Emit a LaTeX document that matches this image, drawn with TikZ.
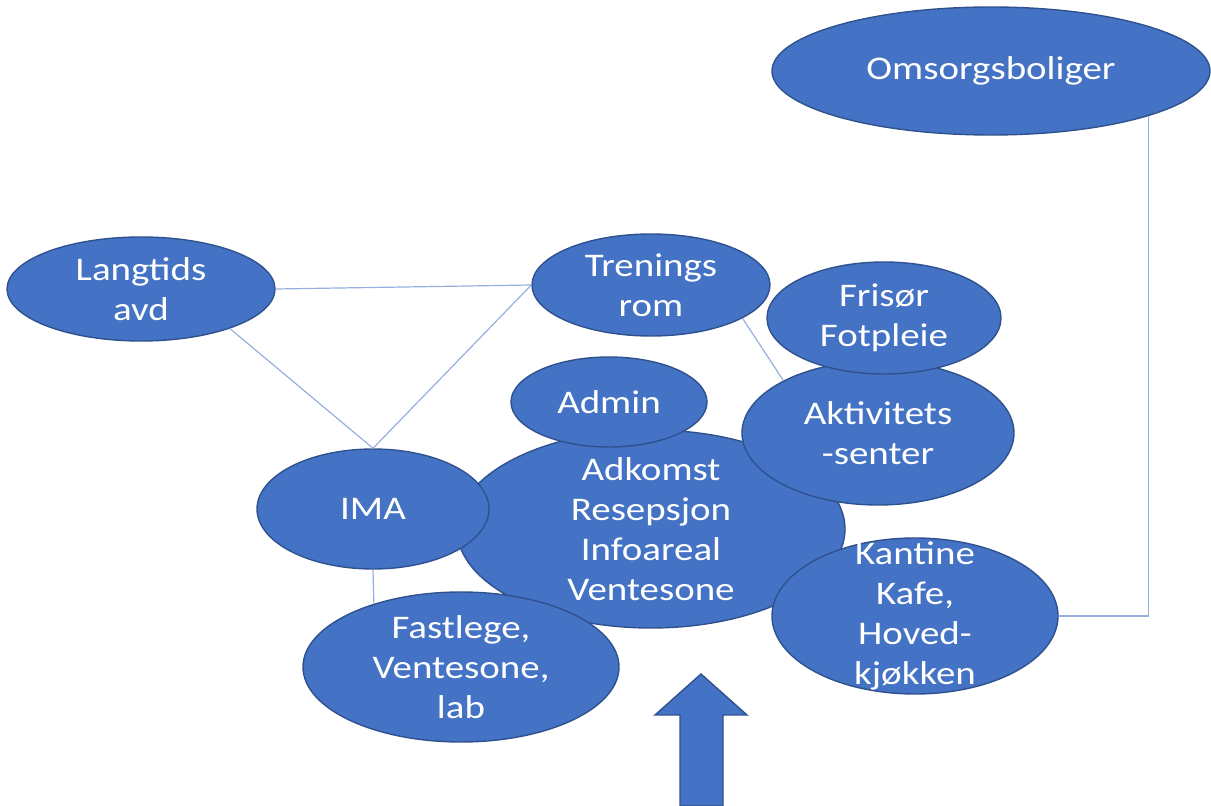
\documentclass[tikz,border=0pt]{standalone}
\usepackage{fontspec}
\setmainfont{Carlito}[FakeStretch=1.18]
\usetikzlibrary{shapes.geometric}
\definecolor{roomblue}{RGB}{68,114,196}
\definecolor{roomedge}{RGB}{47,82,143}
\definecolor{linkblue}{RGB}{150,175,222}
\tikzset{
  room/.style={ellipse, fill=roomblue, draw=roomedge, line width=0.7pt, inner sep=0pt},
  roomtext/.style={text=white, align=center, inner sep=0pt, font=\fontsize{16.5}{20}\selectfont},
  link/.style={draw=linkblue, line width=0.6pt}
}
\begin{document}
\begin{tikzpicture}[x=0.5pt, y=-0.5pt]
\useasboundingbox (0,0) rectangle (1211,806);

% rooms, back to front
\node[room, minimum width=194pt, minimum height=99pt, label={[roomtext]center:Adkomst\\Resepsjon\\Infoareal\\Ventesone}] (adkomst) at (651,529) {};
\node[room, minimum width=116pt, minimum height=60pt, label={[roomtext]center:IMA}] (ima) at (373,509) {};
\node[room, minimum width=158pt, minimum height=75pt, label={[roomtext]center:Fastlege,\\Ventesone,\\lab}] (fastlege) at (461,667) {};
\node[room, minimum width=98pt, minimum height=45pt, label={[roomtext]center:Admin}] (admin) at (609,402) {};
\node[room, minimum width=136pt, minimum height=72pt, label={[roomtext]center:Aktivitets\\-senter}] (aktivitet) at (878,433) {};
\node[room, minimum width=117pt, minimum height=56pt, label={[roomtext]center:Frisør\\Fotpleie}] (frisor) at (884,318) {};
\node[room, minimum width=143pt, minimum height=78pt, label={[roomtext]center:Kantine\\Kafe,\\Hoved-\\kjøkken}] (kantine) at (915,616) {};
\node[room, minimum width=134pt, minimum height=52pt, label={[roomtext]center:Langtids\\avd}] (langtids) at (141,289) {};
\node[room, minimum width=119pt, minimum height=51pt, label={[roomtext]center:Trenings\\rom}] (trening) at (651,285) {};
\node[room, minimum width=219pt, minimum height=64pt, label={[roomtext]center:Omsorgsboliger}] (omsorg) at (991,71) {};

% links
\draw[link] (langtids.east) -- (trening.west);
\draw[link] (langtids.-24) -- (ima.north);
\draw[link] (trening.west) -- (ima.north);
\draw[link] (trening.-20) -- (aktivitet.151);
\draw[link] (ima.south) -- (fastlege.144);
\draw[link] (omsorg.-16.3) |- (kantine.east);

% entrance arrow
\filldraw[fill=roomblue, draw=roomedge, line width=0.7pt] (680,806) -- (680,715) -- (655,715) -- (701,674) -- (747,715) -- (723,715) -- (723,806) -- cycle;
\end{tikzpicture}
\end{document}
